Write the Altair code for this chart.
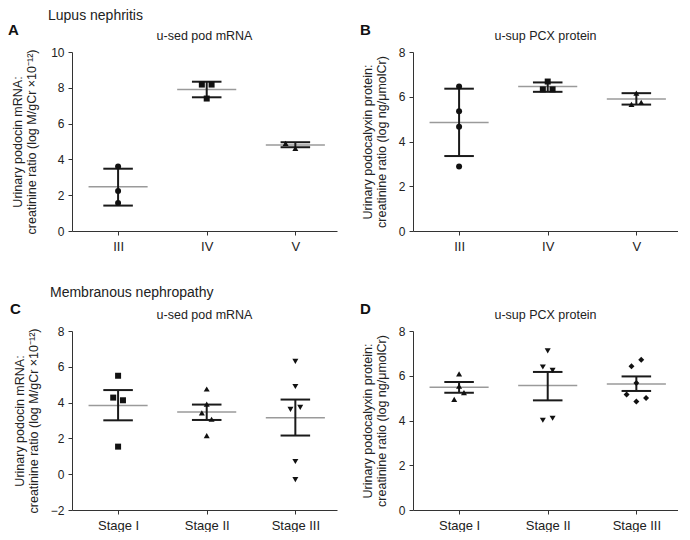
import altair as alt
import pandas as pd

FONT = "Liberation Sans"

# ---------------- Panel A: Lupus nephritis, u-sed pod mRNA ----------------
a_cats = ["III", "IV", "V"]
a_pt_cat = ["III", "III", "III", "IV", "IV", "IV", "V", "V"]
a_pt_val = [3.61, 2.23, 1.57, 8.18, 8.18, 7.40, 4.90, 4.62]
a_pt_slot = [0, 0, 0, -1, 1, 0, -2, 0]
a_mean = [2.47, 7.90, 4.81]
a_lo = [1.42, 7.47, 4.68]
a_hi = [3.48, 8.34, 4.96]

# ---------------- Panel B: Lupus nephritis, u-sup PCX protein ----------------
b_cats = ["III", "IV", "V"]
b_pt_cat = ["III", "III", "III", "III", "IV", "IV", "IV", "V", "V", "V"]
b_pt_val = [6.46, 5.35, 4.66, 2.88, 6.68, 6.33, 6.33, 6.16, 5.66, 5.75]
b_pt_slot = [0, 0, 0, 0, 0, -1, 1, 0, -1, 1]
b_mean = [4.85, 6.46, 5.90]
b_lo = [3.35, 6.22, 5.65]
b_hi = [6.36, 6.64, 6.16]

# ---------------- Panel C: Membranous nephropathy, u-sed pod mRNA ----------------
c_cats = ["Stage I", "Stage II", "Stage III"]
c_pt_cat = ["Stage I"] * 4 + ["Stage II"] * 5 + ["Stage III"] * 6
c_pt_val = [5.50, 4.28, 4.13, 1.54,
            4.76, 3.91, 3.43, 3.07, 2.16,
            6.30, 4.90, 3.62, 3.73, 0.71, -0.30]
c_pt_slot = [0, -1, 1, 0,
             0, 0, -1, 1, 0,
             0, 0, -1, 1, 0, 0]
c_mean = [3.84, 3.47, 3.15]
c_lo = [3.01, 3.03, 2.16]
c_hi = [4.70, 3.89, 4.17]

# ---------------- Panel D: Membranous nephropathy, u-sup PCX protein ----------------
d_cats = ["Stage I", "Stage II", "Stage III"]
d_pt_cat = ["Stage I"] * 4 + ["Stage II"] * 5 + ["Stage III"] * 6
d_pt_val = [6.08, 5.54, 5.25, 4.94,
            7.11, 6.39, 6.24, 4.01, 4.10,
            6.71, 6.43, 5.68, 5.16, 5.01, 4.85]
d_pt_slot = [0, 0, 1, -1,
             0, -1, 1, -1, 1,
             1, -1, 0, -2, 2, 0]
d_mean = [5.49, 5.56, 5.63]
d_lo = [5.24, 4.90, 5.32]
d_hi = [5.72, 6.17, 5.97]

mrna_title = ["Urinary podocin mRNA:", "creatinine ratio (log M/gCr \u00d710\u207b\u00b9\u00b2)"]
pcx_title = ["Urinary podocalyxin protein:", "creatinine ratio (log ng/\u03bcmolCr)"]

W, H = 265, 179
XDOM = [-0.52, 2.47]
SLOT = 0.055   # horizontal spread of one scatter slot, in category units
CAP = 1 / 6
MEANW = 1 / 3


def panel(cats, pt_cat, pt_val, pt_slot, shapes, mean, lo, hi,
          ydom, yvals, ytitle, title, letter, letter_dx, letter_dy, tpad):
    pts = pd.DataFrame({"cat": pt_cat, "value": pt_val, "slot": pt_slot})
    pts["idx"] = pts["cat"].map({c: i for i, c in enumerate(cats)})
    summ = pd.DataFrame({"cat": cats, "idx": list(range(len(cats))),
                         "mean": mean, "lo": lo, "hi": hi})

    label_expr = "[" + ",".join("'%s'" % c for c in cats) + "][datum.value]"
    xscale = alt.Scale(domain=XDOM, nice=False, zero=False)
    yscale = alt.Scale(domain=ydom, nice=False, zero=False)
    xaxis = alt.Axis(values=list(range(len(cats))), labelExpr=label_expr,
                     title=None, labelFontSize=13, labelPadding=5,
                     labelOverlap=False)
    yaxis = alt.Axis(values=yvals, title=ytitle, titlePadding=tpad,
                     labelPadding=4, titleLineHeight=14, labelOverlap=False)

    base_s = alt.Chart(summ)

    mean_line = base_s.transform_calculate(
        x1="datum.idx - %f" % MEANW, x2="datum.idx + %f" % MEANW
    ).mark_rule(color="#9a9a9a", strokeWidth=1.5).encode(
        x=alt.X("x1:Q", scale=xscale, axis=xaxis),
        x2="x2:Q",
        y=alt.Y("mean:Q", scale=yscale, axis=yaxis),
    )
    vbar = base_s.mark_rule(color="#1a1a1a", strokeWidth=2).encode(
        x=alt.X("idx:Q", scale=xscale, axis=xaxis),
        y=alt.Y("lo:Q", scale=yscale, axis=yaxis),
        y2="hi:Q",
    )
    caps_base = base_s.transform_calculate(
        x1="datum.idx - %f" % CAP, x2="datum.idx + %f" % CAP
    )
    cap_lo = caps_base.mark_rule(color="#1a1a1a", strokeWidth=2).encode(
        x=alt.X("x1:Q", scale=xscale, axis=xaxis), x2="x2:Q",
        y=alt.Y("lo:Q", scale=yscale, axis=yaxis),
    )
    cap_hi = caps_base.mark_rule(color="#1a1a1a", strokeWidth=2).encode(
        x=alt.X("x1:Q", scale=xscale, axis=xaxis), x2="x2:Q",
        y=alt.Y("hi:Q", scale=yscale, axis=yaxis),
    )
    points = alt.Chart(pts).transform_calculate(
        xj="datum.idx + datum.slot * %f" % SLOT
    ).mark_point(filled=True, size=36, opacity=1, color="#111111").encode(
        x=alt.X("xj:Q", scale=xscale, axis=xaxis),
        y=alt.Y("value:Q", scale=yscale, axis=yaxis),
        shape=alt.Shape("cat:N", scale=alt.Scale(domain=cats, range=shapes), legend=None),
    )
    lab = alt.Chart(pd.DataFrame({"t": [letter]})).mark_text(
        font=FONT, fontSize=15, fontWeight="bold", align="left", baseline="middle",
        color="#111111"
    ).encode(text="t:N", x=alt.value(letter_dx), y=alt.value(letter_dy))
    sub = alt.Chart(pd.DataFrame({"t": [title]})).mark_text(
        font=FONT, fontSize=12.5, align="center", baseline="middle", color="#222222"
    ).encode(text="t:N", x=alt.value(W / 2), y=alt.value(-16))

    return alt.layer(mean_line, vbar, cap_lo, cap_hi, points, lab, sub).properties(
        width=W, height=H,
    )


A = panel(a_cats, a_pt_cat, a_pt_val, a_pt_slot, ["circle", "square", "triangle-up"],
          a_mean, a_lo, a_hi, [0, 10], [0, 2, 4, 6, 8, 10], mrna_title,
          "u-sed pod mRNA", "A", -64, -22, 12)
B = panel(b_cats, b_pt_cat, b_pt_val, b_pt_slot, ["circle", "square", "triangle-up"],
          b_mean, b_lo, b_hi, [0, 8], [0, 2, 4, 6, 8], pcx_title,
          "u-sup PCX protein", "B", -53, -22, 10)
C = panel(c_cats, c_pt_cat, c_pt_val, c_pt_slot, ["square", "triangle-up", "triangle-down"],
          c_mean, c_lo, c_hi, [-2, 8], [-2, 0, 2, 4, 6, 8], mrna_title,
          "u-sed pod mRNA", "C", -62, -22, 10)
D = panel(d_cats, d_pt_cat, d_pt_val, d_pt_slot, ["triangle-up", "triangle-down", "diamond"],
          d_mean, d_lo, d_hi, [0, 8], [0, 2, 4, 6, 8], pcx_title,
          "u-sup PCX protein", "D", -53, -22, 10)

top = alt.hconcat(A, B, spacing=23).resolve_scale(shape="independent").properties(
    title=alt.TitleParams("Lupus nephritis", anchor="start", fontSize=14,
                          fontWeight="normal", color="#222222", font=FONT, dx=40, offset=0)
)
bottom = alt.hconcat(C, D, spacing=23).resolve_scale(shape="independent").properties(
    title=alt.TitleParams("Membranous nephropathy", anchor="start", fontSize=14,
                          fontWeight="normal", color="#222222", font=FONT, dx=40, offset=2)
)

chart = alt.vconcat(top, bottom, spacing=33).resolve_scale(shape="independent").properties(
    padding={"left": 0, "top": 1, "right": 0, "bottom": 0},
    background="white",
).configure_view(stroke=None).configure_axis(
    labelFont=FONT, titleFont=FONT, labelFontSize=12, titleFontSize=12.5,
    titleFontWeight="normal", labelColor="#222222", titleColor="#222222",
    domainColor="#333333", tickColor="#333333", tickSize=4, grid=False,
    domainWidth=1, tickWidth=1,
)

chart.save("out.html", embed_options={"renderer": "svg", "actions": False})
